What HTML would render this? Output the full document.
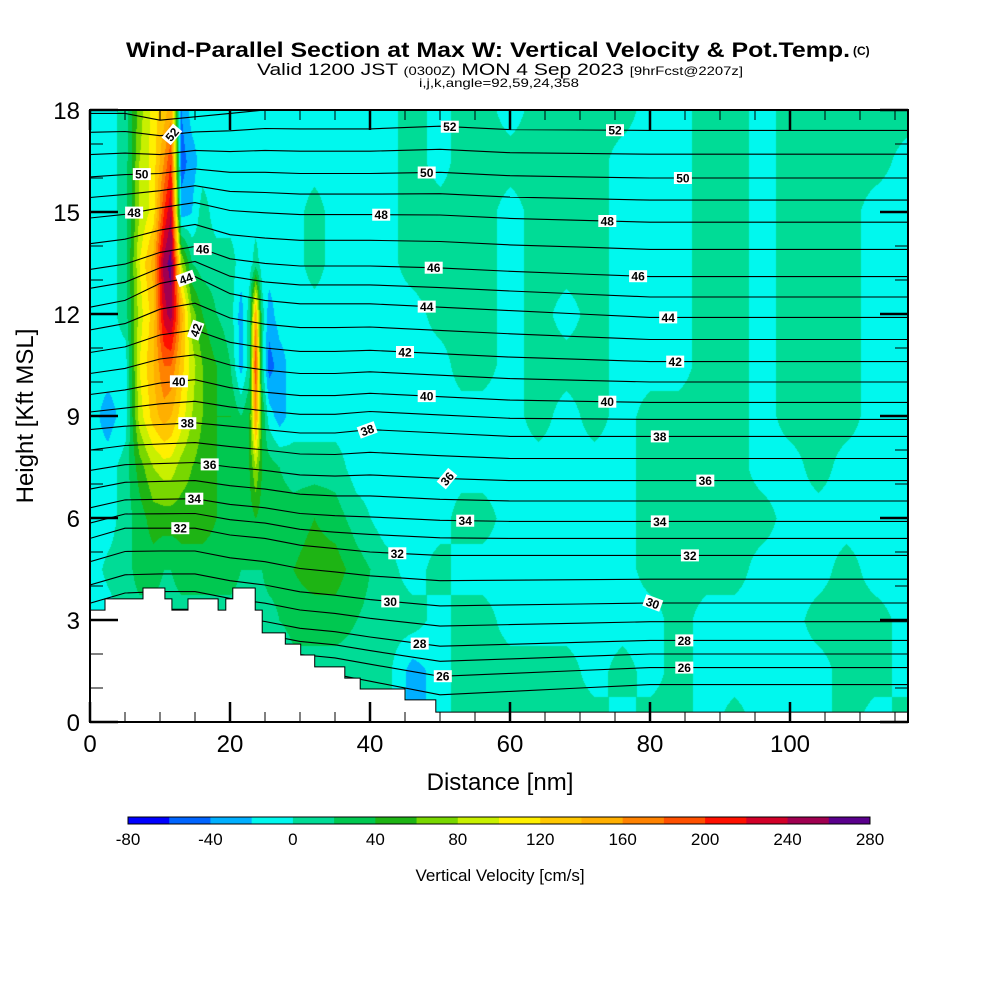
<!DOCTYPE html>
<html><head><meta charset="utf-8">
<style>
html,body{margin:0;padding:0;background:#fff;}
#wrap{position:relative;width:1000px;height:1000px;overflow:hidden;font-family:"Liberation Sans",sans-serif;}
#field{position:absolute;left:90px;top:110px;}
#ov{position:absolute;left:0;top:0;}
</style></head>
<body>
<div id="wrap">
<canvas id="field" width="818" height="602"></canvas>
<svg id="ov" width="1000" height="1000" xmlns="http://www.w3.org/2000/svg">
  <defs><clipPath id="pc"><rect x="90" y="110" width="818" height="612"/></clipPath></defs>
  <g id="contours" clip-path="url(#pc)"></g>
  <polygon id="terrain" fill="#fff" stroke="#000" stroke-width="1"/>
  <g id="clabels"></g>
  <g id="axes"></g>
  <g id="cbar"></g>
  <text x="126" y="57" font-size="21" font-weight="bold" textLength="724" lengthAdjust="spacingAndGlyphs">Wind-Parallel Section at Max W: Vertical Velocity &amp; Pot.Temp.</text>
  <text x="853" y="55" font-size="12" font-weight="bold">(C)</text>
  <text x="500" y="75" font-size="17" text-anchor="middle" textLength="486" lengthAdjust="spacingAndGlyphs">Valid 1200 JST <tspan font-size="12">(0300Z)</tspan> MON 4 Sep 2023 <tspan font-size="12">[9hrFcst@2207z]</tspan></text>
  <text x="499" y="87" font-size="12" text-anchor="middle" textLength="160" lengthAdjust="spacingAndGlyphs">i,j,k,angle=92,59,24,358</text>
  <text x="500" y="790" font-size="24" text-anchor="middle">Distance [nm]</text>
  <text transform="translate(33,416) rotate(-90)" font-size="24" text-anchor="middle">Height [Kft MSL]</text>
  <text x="500" y="881" font-size="17" text-anchor="middle">Vertical Velocity [cm/s]</text>
</svg>
</div>
<script>
// ---- data ----
const colX = [0,2.5,5,7,9,10.5,11.5,13,14.5,16,18,20,21.5,22.7,23.6,24.5,25.5,27,29,32,35,38,42,46,50,53,56,60,64,68,72,76,80,84,88,92,96,100,104,108,112,117];
const rowH = [0,1.5,3,4.5,6,7.5,9,10.5,12,13.5,15,16.5,18];
const wVals = [
[-10,-10,-10,-10,-10,-10,-10,-10,-10,-10,-10,-10,-10],
[-10,-10,-10,5,-10,-10,-30,-10,-10,-10,-10,-10,-10],
[-10,-10,10,10,10,10,-10,-10,10,10,10,10,10],
[-10,-10,10,30,30,50,90,100,90,100,80,80,70],
[-10,-10,10,30,50,80,130,140,130,150,110,110,110],
[-10,-10,10,20,50,90,150,180,230,250,200,160,130],
[-10,-10,10,20,50,90,140,180,250,270,240,200,150],
[-10,-10,10,30,50,70,110,130,150,80,-30,-50,-40],
[-10,-10,10,30,50,60,80,90,70,20,-20,-30,-10],
[-10,-10,10,30,50,50,60,60,40,10,10,-10,-10],
[-10,-10,10,30,40,40,40,40,20,10,-10,-10,-10],
[-10,-10,10,30,30,30,40,20,10,10,-10,-10,-10],
[-10,-10,10,20,30,30,20,-30,-30,-10,-10,-10,-10],
[-10,-10,10,20,30,40,40,10,10,-10,-10,-10,-10],
[-10,-10,10,20,40,80,160,200,150,10,-10,-10,-10],
[-10,-10,10,20,30,40,40,10,10,-10,-10,-10,-10],
[-10,-10,10,30,30,30,-10,-50,-30,-10,-10,-10,-10],
[-10,-10,20,30,30,20,-30,-30,-10,-10,-10,-10,-10],
[-10,10,30,40,30,10,-10,-10,-10,-10,-10,-10,-10],
[10,10,30,50,40,10,-10,-10,-10,10,10,-10,-10],
[10,10,30,50,30,10,-10,-10,-10,-10,-10,-10,-10],
[10,10,20,30,10,-10,-10,-10,-10,-10,-10,-10,-10],
[10,10,10,10,-10,-10,-10,-10,-10,-10,-10,-10,-10],
[-30,-30,10,-10,-10,-10,-10,-10,-10,10,10,10,10],
[-10,-10,-10,10,-10,-10,-10,-10,10,10,10,-10,-10],
[10,10,10,-10,10,-10,-10,10,10,10,10,10,10],
[10,10,10,-10,10,-10,-10,10,10,10,10,10,10],
[10,10,-10,-10,-10,-10,-10,-10,-10,-10,-10,10,-10],
[10,10,-10,-10,-10,-10,10,10,10,10,10,10,10],
[10,10,-10,-10,-10,-10,-10,10,-10,10,10,10,10],
[10,-10,-10,-10,-10,-10,10,10,10,10,10,10,10],
[-10,10,-10,-10,-10,-10,-10,-10,-10,-10,-10,-10,10],
[10,-10,-10,10,10,10,10,-10,-10,-10,-10,-10,-10],
[10,10,10,10,10,10,10,-10,-10,-10,-10,-10,-10],
[-10,-10,-10,10,10,10,10,10,10,10,10,10,10],
[10,-10,-10,10,10,10,10,10,10,10,10,10,10],
[-10,-10,-10,-10,10,-10,-10,-10,-10,-10,-10,-10,-10],
[-10,-10,-10,-10,-10,-10,10,10,10,10,10,10,10],
[-10,-10,10,-10,-10,10,10,10,10,10,10,10,10],
[10,10,10,10,-10,-10,10,10,10,10,10,10,10],
[-10,10,10,-10,-10,-10,-10,-10,-10,-10,-10,10,10],
[10,-10,-10,-10,-10,-10,-10,-10,-10,-10,-10,-10,10]
];
const cbLevels = [-80,-60,-40,-20,0,20,40,60,80,100,120,140,160,180,200,220,240,260,280];
const cbTickLabels = ["-80","-40","0","40","80","120","160","200","240","280"];
const thetaLevels = [25,26,27,28,29,30,31,32,33,34,35,36,37,38,39,40,41,42,43,44,45,46,47,48,49,50,51,52,53];
const thetaHeights = [1.1,1.6,2.0,2.4,2.95,3.5,4.2,4.9,5.4,5.9,6.5,7.1,7.75,8.4,8.9,9.4,10.0,10.6,11.25,11.9,12.5,13.1,13.9,14.7,15.35,16.0,16.7,17.4,18.0];
const offX = [0,5,10,15,20,25,30,35,40,50,60,70,80,90,100,110,117];
const offAnchorLevels = [25,32,38,44,53];
const offL25 = [0.6,0.9,1.0,1.0,0.8,0.6,0.4,0.3,0.1,-0.3,-0.2,-0.1,0,0,0,0,0];
const offL32 = [0.5,0.8,0.8,0.8,0.6,0.5,0.3,0.2,0.1,0,0,0,0,0,0,0,0];
const offL38 = [0.2,0.3,0.35,0.4,0.3,0.2,0.1,0.1,0.2,0.1,0,0,0,0,0,0,0];
const offL44 = [0.3,0.5,1.0,1.2,0.7,0.5,0.4,0.4,0.4,0.3,0.2,0.1,0,0,0,0,0];
const offL53 = [-0.1,-0.1,-0.3,-0.2,-0.1,0,0,0,0,0.1,0,0,0,0,0,0,0];
const offProfiles = [offL25,offL32,offL38,offL44,offL53];
const terrX = [0,2.14,2.14,7.57,7.57,10.7,10.7,11.7,11.7,14,14,18.3,18.3,19.4,19.4,20.4,20.4,23.6,23.6,24.6,24.6,27.9,27.9,30.1,30.1,32.1,32.1,36.4,36.4,38.6,38.6,45,45,49.4,49.4,116.9];
const terrH = [3.29,3.29,3.62,3.62,3.94,3.94,3.62,3.62,3.29,3.29,3.62,3.62,3.29,3.29,3.62,3.62,3.94,3.94,3.29,3.29,2.62,2.62,2.29,2.29,1.97,1.97,1.62,1.62,1.29,1.29,0.97,0.97,0.65,0.65,0.29,0.29];
const labelList = [[52,11.7,-50],[50,7.4,0],[48,6.3,0],[46,16.1,0],[44,13.7,-20],[42,15.1,-70],[40,12.7,0],[38,13.9,0],[36,17.1,0],[34,14.9,0],[32,12.9,0],
[52,51.4,0],[50,48.1,0],[48,41.6,0],[46,49.1,0],[44,48.1,0],[42,45,0],[40,48.1,0],[38,39.6,-20],[36,51,-50],[34,53.6,0],[32,43.9,0],[30,42.9,0],[28,47.1,0],[26,50.4,0],
[52,75,0],[50,84.7,0],[48,73.9,0],[46,78.3,0],[44,82.6,0],[42,83.6,0],[40,73.9,0],[38,81.4,0],[36,87.9,0],[34,81.4,0],[32,85.7,0],[30,80.4,20],[28,84.9,0],[26,84.9,0]];
const cbColors = ["#0000ff","#0064ff","#00afff","#00f8ee","#00dc96","#00c850","#1eb414","#78d700","#c8f000","#fff000","#ffc800","#ffaf00","#ff8200","#ff5000","#ff1000","#d20028","#a00050","#5a008c"];

// ---- axis functions ----
const X0=90, XW=7, Y0=722, YH=34;
const sx = nm => X0 + nm*XW;
const sy = h => Y0 - h*YH;
const NS='http://www.w3.org/2000/svg';
function mk(tag, attrs, parent){const e=document.createElementNS(NS,tag);for(const k in attrs)e.setAttribute(k,attrs[k]);parent.appendChild(e);return e;}
function interp(xsA, ysA, x){ if(x<=xsA[0])return ysA[0]; for(let i=1;i<xsA.length;i++){ if(x<=xsA[i]){const t=(x-xsA[i-1])/(xsA[i]-xsA[i-1]);return ysA[i-1]+t*(ysA[i]-ysA[i-1]);}} return ysA[ysA.length-1]; }
function hexToRgb(h){return [parseInt(h.slice(1,3),16),parseInt(h.slice(3,5),16),parseInt(h.slice(5,7),16)];}

// ---- field ----
(function(){
  const cv=document.getElementById('field'), ctx=cv.getContext('2d');
  const W=cv.width, H=cv.height, img=ctx.createImageData(W,H);
  const rgb=cbColors.map(hexToRgb);
  const ymax = sy(0.29)-110;
  for(let px=0;px<W;px++){
    const nm=px/XW;
    let ci=0; while(ci<colX.length-2 && nm>colX[ci+1]) ci++;
    const tx=Math.min(1,Math.max(0,(nm-colX[ci])/(colX[ci+1]-colX[ci])));
    for(let py=0;py<H;py++){
      const o=(py*W+px)*4;
      if(py>ymax){img.data[o]=255;img.data[o+1]=255;img.data[o+2]=255;img.data[o+3]=255;continue;}
      const h=(Y0-(py+110))/YH;
      let ri=0; while(ri<rowH.length-2 && h>rowH[ri+1]) ri++;
      const ty=Math.min(1,Math.max(0,(h-rowH[ri])/(rowH[ri+1]-rowH[ri])));
      const a=wVals[ci][ri]*(1-ty)+wVals[ci][ri+1]*ty;
      const b=wVals[ci+1][ri]*(1-ty)+wVals[ci+1][ri+1]*ty;
      const v=a*(1-tx)+b*tx;
      let k=Math.floor((v-cbLevels[0])/20); k=Math.max(0,Math.min(17,k));
      img.data[o]=rgb[k][0];img.data[o+1]=rgb[k][1];img.data[o+2]=rgb[k][2];img.data[o+3]=255;
    }
  }
  ctx.putImageData(img,0,0);
})();

// ---- contours ----
const cg=document.getElementById('contours');
function thetaY(li, nm){
  const lv=thetaLevels[li];
  let k=0; while(k<offAnchorLevels.length-2 && lv>offAnchorLevels[k+1]) k++;
  const f=Math.min(1,Math.max(0,(lv-offAnchorLevels[k])/(offAnchorLevels[k+1]-offAnchorLevels[k])));
  const off=interp(offX,offProfiles[k],nm)*(1-f)+interp(offX,offProfiles[k+1],nm)*f;
  return sy(thetaHeights[li]+off);
}
thetaLevels.forEach((lv,li)=>{
  const pts=[];
  for(let j=0;j<offX.length;j++) pts.push(sx(offX[j]).toFixed(1)+','+thetaY(li,offX[j]).toFixed(1));
  const pl=mk('polyline',{points:pts.join(' '),fill:'none',stroke:'#000','stroke-width':1.1},cg);
  
  
});

// ---- terrain ----
(function(){
  const pts=terrX.map((x,i)=>sx(x).toFixed(1)+','+sy(terrH[i]).toFixed(1));
  pts.push(sx(116.9)+','+Y0, sx(0)+','+Y0);
  document.getElementById('terrain').setAttribute('points',pts.join(' '));
})();

// ---- contour labels ----
const lg=document.getElementById('clabels');
labelList.forEach(l=>{
  const li=thetaLevels.indexOf(l[0]);
  const x=sx(l[1]), y=thetaY(li,l[1]);
  const g=mk('g',{transform:'translate('+x.toFixed(1)+','+y.toFixed(1)+') rotate('+l[2]+')'},lg);
  
  
  mk('rect',{x:-9,y:-6,width:18,height:12,fill:'#fff'},g);
  const t=mk('text',{x:0,y:4.5,'font-size':12,'text-anchor':'middle','font-weight':'bold'},g);
  t.textContent=l[0];
});

// ---- axes ----
const ag=document.getElementById('axes');
mk('rect',{x:90,y:110,width:818,height:612,fill:'none',stroke:'#000','stroke-width':2},ag);
for(let h=0;h<=18;h++){
  const major=h%3===0, len=major?28:13, y=sy(h);
  mk('line',{x1:90,y1:y,x2:90+len,y2:y,stroke:'#000','stroke-width':major?2.5:1},ag);
  mk('line',{x1:908,y1:y,x2:908-len,y2:y,stroke:'#000','stroke-width':major?2.5:1},ag);
  if(major){const t=mk('text',{x:80,y:y+9,'font-size':24,'text-anchor':'end'},ag);t.textContent=h;
    }
}
for(let d=0;d<=115;d+=5){
  const major=d%20===0, len=major?20:10, x=sx(d);
  mk('line',{x1:x,y1:722,x2:x,y2:722-len,stroke:'#000','stroke-width':major?2.5:1},ag);
  mk('line',{x1:x,y1:110,x2:x,y2:110+len,stroke:'#000','stroke-width':major?2.5:1},ag);
  if(major){const t=mk('text',{x:x,y:752,'font-size':24,'text-anchor':'middle'},ag);t.textContent=d;
    }
}

// ---- colorbar ----
const cb=document.getElementById('cbar');
const cbx0=128, cbw=742/18;
cbColors.forEach((c,i)=>{
  const r=mk('rect',{x:cbx0+i*cbw,y:817,width:cbw+0.5,height:7,fill:c},cb);
  
  
});
mk('rect',{x:cbx0,y:817,width:742,height:7,fill:'none',stroke:'#000','stroke-width':1},cb);
cbTickLabels.forEach((s,i)=>{
  const t=mk('text',{x:cbx0+i*2*cbw,y:845,'font-size':17,'text-anchor':'middle'},cb);
  t.textContent=s;
  
  
});
</script>
</body></html>
